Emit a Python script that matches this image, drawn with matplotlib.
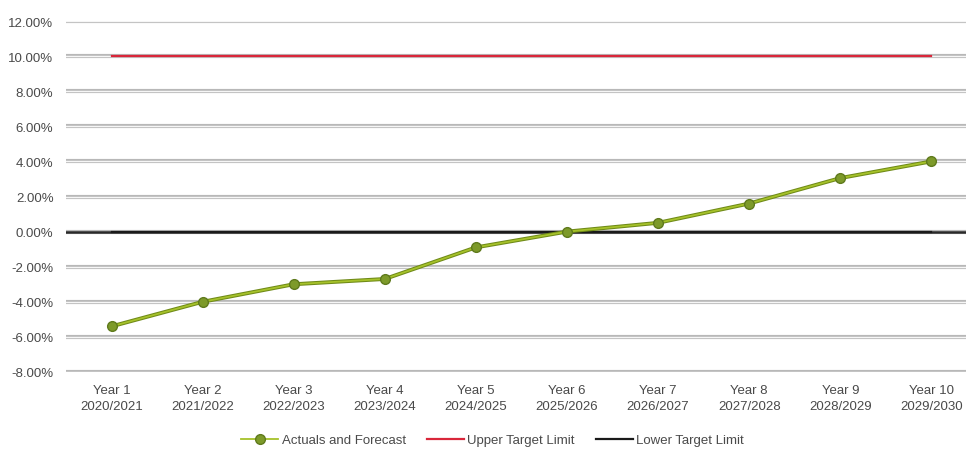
import matplotlib.pyplot as plt
from matplotlib.ticker import FuncFormatter

years = ["Year 1", "Year 2", "Year 3", "Year 4", "Year 5",
         "Year 6", "Year 7", "Year 8", "Year 9", "Year 10"]
periods = ["2020/2021", "2021/2022", "2022/2023", "2023/2024", "2024/2025",
           "2025/2026", "2026/2027", "2027/2028", "2028/2029", "2029/2030"]
actuals = [-5.4, -4.0, -3.0, -2.7, -0.9, 0.0, 0.5, 1.6, 3.05, 4.0]
upper_limit = [10.0] * 10
lower_limit = [0.0] * 10
y_ticks = [-8, -6, -4, -2, 0, 2, 4, 6, 8, 10, 12]

plt.rcParams['font.family'] = ['Liberation Sans', 'DejaVu Sans']

fig = plt.figure(figsize=(9.66, 4.52), dpi=100)
ax = fig.add_axes([0.0683, 0.1748, 0.943, 0.7765])

x = list(range(1, len(years) + 1))

# gridlines with a light "double" look
for t in y_ticks:
    ax.axhline(t, color='#b8b8b8', lw=3.0, zorder=1)
    ax.axhline(t, color='#f6f6f6', lw=1.0, zorder=1.1)
ax.axhline(0, color='#2a2a2a', lw=1.8, zorder=1.2)

ax.plot(x, upper_limit, color='#d9263a', lw=1.6, zorder=3, label='Upper Target Limit')
ax.plot(x, lower_limit, color='#1a1a1a', lw=1.6, zorder=3, label='Lower Target Limit')
ax.plot(x, actuals, color='#6f8a18', lw=2.8, zorder=4)
ax.plot(x, actuals, color='#a6c22a', lw=1.3, zorder=5, marker='o', ms=7,
        mfc='#7d9a2a', mec='#5f7a1c', mew=1.0, label='Actuals and Forecast')

ax.set_xlim(0.5, 10.5)
ax.set_ylim(-8, 12)
ax.set_yticks(y_ticks)
ax.yaxis.set_major_formatter(FuncFormatter(lambda v, p: f"{v:.2f}%"))
ax.set_xticks(x)
ax.set_xticklabels([f"{a}\n{b}" for a, b in zip(years, periods)], linespacing=1.35)
ax.tick_params(axis='both', length=0, labelsize=9.5, labelcolor='#4a4a4a')
ax.tick_params(axis='y', pad=9)
ax.tick_params(axis='x', pad=9)
for s in ax.spines.values():
    s.set_visible(False)

handles, labels = ax.get_legend_handles_labels()
order = [2, 0, 1]
fig.legend([handles[i] for i in order], [labels[i] for i in order],
           loc='center', bbox_to_anchor=(0.51, 0.024), ncol=3, frameon=False,
           fontsize=9.5, labelcolor='#4a4a4a', handlelength=2.8,
           columnspacing=1.6, handletextpad=0.25)

fig.savefig('out.png', dpi=100)
